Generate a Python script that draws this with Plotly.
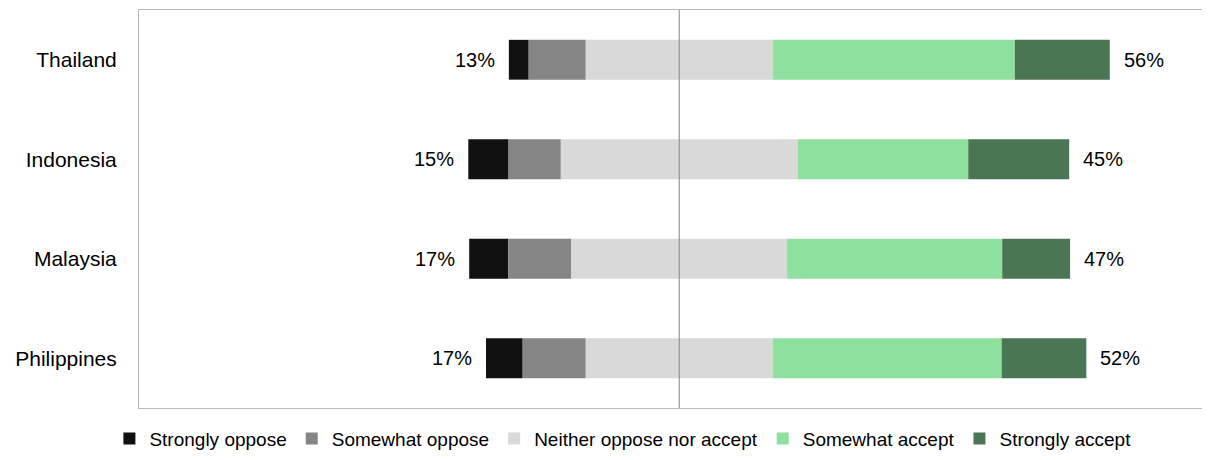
import plotly.graph_objects as go

countries = ["Thailand", "Indonesia", "Malaysia", "Philippines"]
strongly_oppose = [3.3, 6.7, 6.5, 6.1]
somewhat_oppose = [9.5, 8.7, 10.5, 10.5]
neither = [31.1, 39.4, 35.9, 31.1]
somewhat_accept = [40.3, 28.4, 35.8, 38.1]
strongly_accept = [15.8, 16.8, 11.3, 14.1]
oppose_labels = ["13%", "15%", "17%", "17%"]
accept_labels = ["56%", "45%", "47%", "52%"]

series_names = ["Strongly oppose", "Somewhat oppose", "Neither oppose nor accept",
                "Somewhat accept", "Strongly accept"]
colors = ["#111111", "#858585", "#d9d9d9", "#8ee09e", "#4a7654"]

half_n = [v / 2 for v in neither]
base_neither = [-h for h in half_n]
base_so = [-h - s for h, s in zip(half_n, somewhat_oppose)]
base_sto = [-h - s - t for h, s, t in zip(half_n, somewhat_oppose, strongly_oppose)]
base_sa = half_n
base_sta = [h + s for h, s in zip(half_n, somewhat_accept)]

widths = [strongly_oppose, somewhat_oppose, neither, somewhat_accept, strongly_accept]
bases = [base_sto, base_so, base_neither, base_sa, base_sta]

fig = go.Figure()
for name, col, w, b in zip(series_names, colors, widths, bases):
    fig.add_trace(go.Bar(
        y=countries, x=w, base=b, orientation="h", name=name,
        marker=dict(color=col, line=dict(width=0)), width=0.4,
        hoverinfo="skip",
    ))

annotations = []
for c, bl, lab in zip(countries, base_sto, oppose_labels):
    annotations.append(dict(x=bl, y=c, text=lab, showarrow=False, xanchor="right",
                            xshift=-12, font=dict(size=20, color="#000000")))
end_right = [b + w for b, w in zip(base_sta, strongly_accept)]
for c, br, lab in zip(countries, end_right, accept_labels):
    annotations.append(dict(x=br, y=c, text=lab, showarrow=False, xanchor="left",
                            xshift=12, font=dict(size=20, color="#000000")))

fig.update_layout(
    width=1194, height=444,
    margin=dict(l=131, r=0, t=2, b=44),
    barmode="overlay",
    plot_bgcolor="#ffffff", paper_bgcolor="#ffffff",
    font=dict(family="Liberation Sans, Arial, sans-serif", color="#000000"),
    annotations=annotations,
    shapes=[dict(type="line", xref="x", yref="paper", x0=0, x1=0, y0=0, y1=1,
                 line=dict(color="#8a8080", width=1), layer="above")],
    legend=dict(orientation="h", xref="container", yref="container",
                x=0.515, xanchor="center", y=0.03, yanchor="middle",
                font=dict(size=19, color="#000000"), traceorder="normal",
                itemclick=False),
    xaxis=dict(range=[-89.9, 87.0], showgrid=False, zeroline=False,
               showticklabels=False, ticks="", showline=True, mirror=True,
               linecolor="#b8b8b8", linewidth=1, fixedrange=True),
    yaxis=dict(categoryorder="array", categoryarray=countries,
               range=[3.5, -0.5], showgrid=False, zeroline=False, ticks="",
               showline=True, linecolor="#b8b8b8", linewidth=1,
               tickfont=dict(size=21, color="#000000"), ticklabelstandoff=17,
               fixedrange=True),
)

fig.write_html("out.html")
